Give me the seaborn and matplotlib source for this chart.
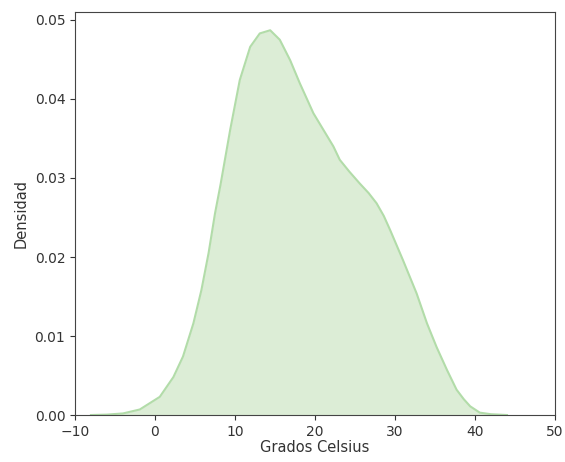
import matplotlib
matplotlib.use("Agg")
import matplotlib.pyplot as plt
import seaborn as sns
import pandas as pd

# Density curve
temp_c = [-8.0, -6.0, -4.0, -1.9, 0.6, 2.3, 3.5, 4.8, 5.8, 6.7, 7.5, 8.2, 9.4,
          10.6, 11.9, 13.1, 14.4, 15.6, 16.9, 18.1, 19.8, 22.3, 23.1, 24.3,
          25.6, 26.7, 27.7, 28.6, 29.4, 31.0, 32.7, 34.0, 35.2, 36.5, 37.7,
          38.6, 39.4, 40.6, 42.0, 44.0]
density = [0.0, 0.00005, 0.0002, 0.0007, 0.0023, 0.0048, 0.0074, 0.0116, 0.0158,
           0.0205, 0.0255, 0.0292, 0.0361, 0.0424, 0.0466, 0.0483, 0.0487,
           0.0475, 0.0449, 0.0420, 0.0382, 0.0340, 0.0323, 0.0308, 0.0293,
           0.0281, 0.0268, 0.0252, 0.0234, 0.0196, 0.0154, 0.0116, 0.0086,
           0.0057, 0.0032, 0.0020, 0.0011, 0.0003, 0.0001, 0.0]

df = pd.DataFrame({"Grados Celsius": temp_c, "Densidad": density})

fig = plt.figure(figsize=(5.65, 4.62), dpi=100)
ax = fig.add_axes([0.1327, 0.1017, 0.8496, 0.873])

ax.fill_between(df["Grados Celsius"], df["Densidad"], color="#dcedd6", linewidth=0)
sns.lineplot(data=df, x="Grados Celsius", y="Densidad", color="#b2dca9",
             linewidth=1.5, ax=ax)

ax.set_xlim(-10, 50)
ax.set_ylim(0, 0.05105)
ax.set_xticks([-10, 0, 10, 20, 30, 40, 50])
ax.set_yticks([0.0, 0.01, 0.02, 0.03, 0.04, 0.05])
ax.set_yticklabels(["0.00", "0.01", "0.02", "0.03", "0.04", "0.05"])
ax.set_xlabel("Grados Celsius", fontsize=10.5, color="#333333", labelpad=1)
ax.set_ylabel("Densidad", fontsize=10.5, color="#333333")
ax.tick_params(labelsize=10, colors="#333333")
for s in ax.spines.values():
    s.set_color("#444444")

fig.savefig("out.png", dpi=100)
